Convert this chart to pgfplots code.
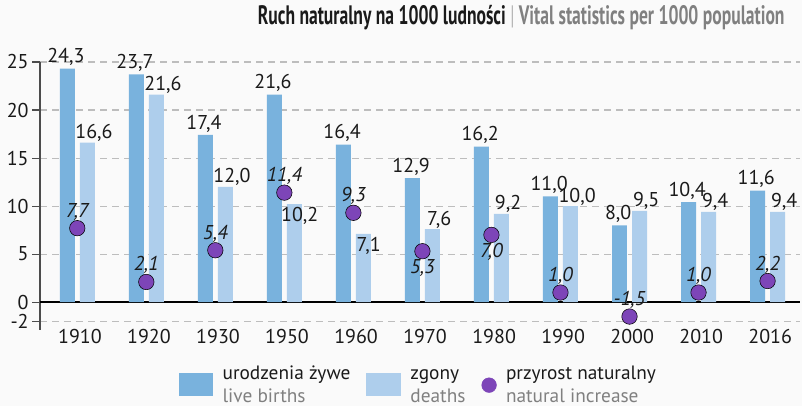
\documentclass[border=0pt]{standalone}
\usepackage{fontspec}
\setmainfont{PT Sans}
\usepackage{pgfplots}
\usepackage{pgfplotstable}
\pgfplotsset{compat=1.18}
\definecolor{cBirth}{HTML}{79B2DD}
\definecolor{cDeath}{HTML}{AECEEC}
\definecolor{cIncr}{HTML}{7D45B8}
\definecolor{cText}{HTML}{1A1A1A}
\definecolor{cSub}{HTML}{808080}
\definecolor{cGrid}{HTML}{BDBDBD}
\definecolor{cBg}{HTML}{FAFAFA}

\pgfplotstableread{
x  births deaths incr
0  24.3   16.6   7.7
1  23.7   21.6   2.1
2  17.4   12.0   5.4
3  21.6   10.2   11.4
4  16.4   7.1    9.3
5  12.9   7.6    5.3
6  16.2   9.2    7.0
7  11.0   10.0   1.0
8  8.0    9.5    -1.5
9  10.4   9.4    1.0
10 11.6   9.4    2.2
}\vital

\newcommand{\numlab}{\pgfmathprintnumber[fixed,fixed zerofill,precision=1,use comma,assume math mode=true]{\pgfplotspointmeta}}

\begin{document}
\begin{tikzpicture}
\fill[cBg] (0,0) rectangle (601.5pt,304.5pt);
\begin{axis}[
    at={(30pt,57pt)}, anchor=south west,
    scale only axis, width=570pt, height=201pt,
    xmin=-0.54, xmax=10.47, ymin=-2.9, ymax=25,
    axis lines*=left,
    x axis line style={draw=none},
    y axis line style={draw=black!70, line width=0.8pt},
    tick align=outside,
    major tick length=6pt,
    xtick={0,...,10},
    xticklabels={1910,1920,1930,1950,1960,1970,1980,1990,2000,2010,2016},
    xtick style={draw=none},
    ytick={-2,5,10,15,20,25},
    ytick style={draw=black!70, line width=0.8pt},
    extra y ticks={0},
    extra y tick style={grid=major, major grid style={black, line width=1.3pt, solid}},
    ymajorgrids,
    major grid style={cGrid, line width=0.8pt, dash pattern=on 5pt off 4pt},
    /pgf/number format/assume math mode=true,
    ticklabel style={font=\fontsize{15}{17}\selectfont, text=cText},
    yticklabel style={xshift=1pt},
    xticklabel style={anchor=north, inner sep=0pt, yshift=7pt, xshift=2pt},
    title={\resizebox{395pt}{\height}{\fontsize{20}{23}\selectfont\bfseries\color{cText}Ruch naturalny na 1000 ludności \textcolor{cSub!60}{\mdseries|} \textcolor{cSub}{Vital statistics per 1000 population}}},
    title style={at={(0.98,1)}, anchor=south east, inner sep=0pt, yshift=18pt},
    legend columns=3,
    legend cell align=left,
    legend style={at={(0.182,-0.115)}, anchor=north west, draw=none, fill=none,
        inner sep=0pt, font=\fontsize{14.5}{17}\selectfont, text=cText,
        /tikz/every odd column/.append style={column sep=5pt},
        /tikz/every even column/.append style={column sep=10pt}},
    lab/.style={draw=none, mark=none, forget plot, point meta=y,
        nodes near coords={\numlab},
        nodes near coords style={inner sep=2pt, font=\fontsize{15}{17}\selectfont, text=cText}},
]
\addplot[ybar, bar width=0.217, bar shift=-0.145, fill=cBirth, draw=none,
    legend image code/.code={\fill[cBirth] (0pt,-13pt) rectangle (26pt,4pt);}]
    table[x=x, y=births] {\vital};
\addlegendentry{\begin{tabular}{@{}l@{}}urodzenia żywe\\[0pt]\textcolor{cSub}{live births}\end{tabular}}
\addplot[ybar, bar width=0.217, bar shift=0.145, fill=cDeath, draw=none,
    legend image code/.code={\fill[cDeath] (0pt,-13pt) rectangle (26pt,4pt);}]
    table[x=x, y=deaths] {\vital};
\addlegendentry{\begin{tabular}{@{}l@{}}zgony\\[0pt]\textcolor{cSub}{deaths}\end{tabular}}
\addplot[only marks, mark=*, mark size=5.8pt, mark options={fill=cIncr, draw=none},
    legend image code/.code={\fill[cIncr] (4pt,-5pt) circle (5.5pt);}]
    table[x=x, y=incr] {\vital};
\addlegendentry{\begin{tabular}{@{}l@{}}przyrost naturalny\\[0pt]\textcolor{cSub}{natural increase}\end{tabular}}

% value labels: births
\addplot[lab, nodes near coords style={anchor=south, xshift=-1pt}, x filter/.expression={x-0.145}]
    table[x=x, y=births] {\vital};
% deaths, above the bar
\addplot[lab, nodes near coords style={anchor=south, inner sep=0.5pt, xshift=5pt}, x filter/.expression={or(x==3,x==4) ? nan : x+0.145}]
    table[x=x, y=deaths] {\vital};
% deaths, just under the top of the bar
\addplot[lab, nodes near coords style={anchor=north, xshift=4pt}, x filter/.expression={or(x==3,x==4) ? x+0.145 : nan}]
    table[x=x, y=deaths] {\vital};
% natural increase, above the dot
\addplot[lab, nodes near coords style={anchor=south, inner sep=1pt, outer sep=5pt, font=\fontsize{15}{17}\selectfont\itshape}, x filter/.expression={or(x==5,x==6) ? nan : x}]
    table[x=x, y=incr] {\vital};
% natural increase, below the dot
\addplot[lab, nodes near coords style={anchor=north, inner sep=1pt, outer sep=5pt, font=\fontsize{15}{17}\selectfont\itshape}, x filter/.expression={or(x==5,x==6) ? x : nan}]
    table[x=x, y=incr] {\vital};
\end{axis}
\pgfresetboundingbox
\useasboundingbox (0,0) rectangle (601.5pt,304.5pt);
\end{tikzpicture}
\end{document}
